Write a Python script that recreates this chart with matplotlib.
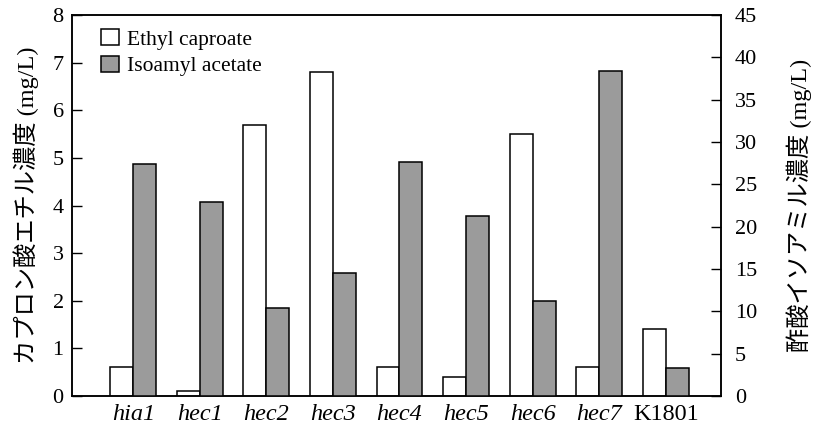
import numpy as np
import matplotlib
matplotlib.use("Agg")
import matplotlib.pyplot as plt

plt.rcParams['font.family'] = ['Liberation Serif', 'Noto Sans CJK JP']

strains = ['hia1', 'hec1', 'hec2', 'hec3', 'hec4', 'hec5', 'hec6', 'hec7', 'K1801']
italic = [True, True, True, True, True, True, True, True, False]
ethyl_caproate = [0.6, 0.1, 5.7, 6.8, 0.6, 0.4, 5.5, 0.6, 1.4]        # mg/L, left axis
isoamyl_acetate = [27.4, 22.9, 10.4, 14.5, 27.6, 21.3, 11.2, 38.4, 3.3]  # mg/L, right axis

fig = plt.figure(figsize=(8.13, 4.3), dpi=100)
ax = fig.add_axes([0.0886, 0.079, 0.7982, 0.886])
ax2 = ax.twinx()

x = np.arange(len(strains))
w = 0.345
ax.bar(x - w / 2, ethyl_caproate, w, color='white', edgecolor='black',
       linewidth=1.1, label='Ethyl caproate', zorder=3)
ax2.bar(x + w / 2, isoamyl_acetate, w, color='#9b9b9b', edgecolor='black',
        linewidth=1.1, label='Isoamyl acetate', zorder=3)

ax.set_xlim(-0.92, 8.83)
ax.set_ylim(0, 8)
ax2.set_ylim(0, 45)
ax.set_yticks(range(0, 9))
ax2.set_yticks(range(0, 46, 5))

ax.set_xticks(x)
ax.set_xticklabels(strains, fontsize=17.5)
for lab, it in zip(ax.get_xticklabels(), italic):
    if it:
        lab.set_style('italic')
ax.tick_params(axis='x', length=0, pad=6)
ax.tick_params(axis='y', direction='in', length=7, width=1, labelsize=16, pad=6)
ax2.tick_params(axis='y', direction='in', length=7, width=1, labelsize=16, pad=10)

for a in (ax, ax2):
    for s in a.spines.values():
        s.set_linewidth(1.1)

ax.set_ylabel('カプロン酸エチル濃度 (mg/L)', fontsize=17.5, labelpad=10)
ax2.set_ylabel('酢酸イソアミル濃度 (mg/L)', fontsize=17.5, labelpad=21)

h1, l1 = ax.get_legend_handles_labels()
h2, l2 = ax2.get_legend_handles_labels()
ax2.legend(h1 + h2, l1 + l2, loc='upper left', bbox_to_anchor=(0.031, 0.985),
           frameon=False, fontsize=15.5, handlelength=0.85, handleheight=0.75,
           handletextpad=0.35, labelspacing=0.28, borderaxespad=0)

fig.savefig('out.png', dpi=100)
